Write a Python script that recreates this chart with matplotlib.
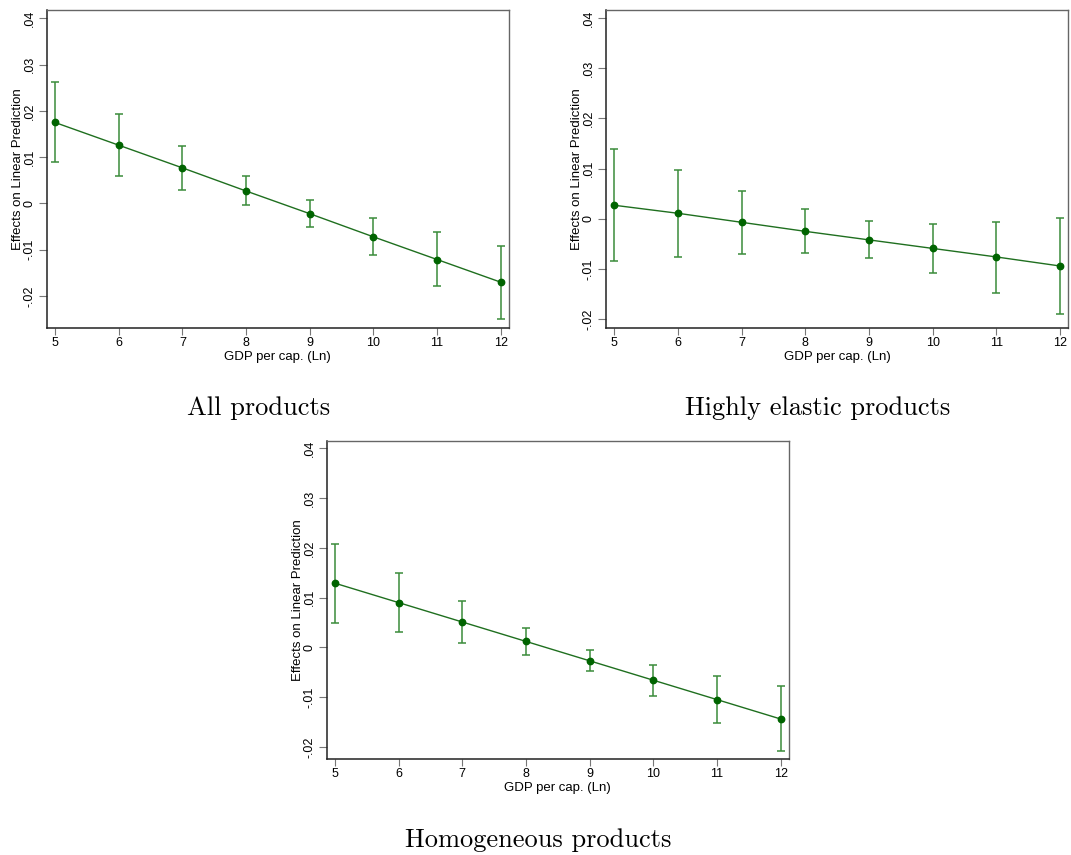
import matplotlib.pyplot as plt
from matplotlib.ticker import FixedLocator

# GDP per capita (ln) grid
gdp = [5, 6, 7, 8, 9, 10, 11, 12]

# All products
all_eff = [0.0175, 0.0126, 0.0077, 0.0027, -0.0022, -0.0072, -0.0121, -0.0170]
all_hi = [0.0263, 0.0193, 0.0124, 0.0059, 0.0007, -0.0032, -0.0062, -0.0092]
all_lo = [0.0089, 0.0060, 0.0030, -0.0004, -0.0051, -0.0112, -0.0179, -0.0249]

# Highly elastic products
elas_eff = [0.0027, 0.0011, -0.0007, -0.0025, -0.0042, -0.0059, -0.0076, -0.0094]
elas_hi = [0.0140, 0.0097, 0.0055, 0.0019, -0.0005, -0.0011, -0.0006, 0.0001]
elas_lo = [-0.0085, -0.0076, -0.0070, -0.0068, -0.0079, -0.0108, -0.0148, -0.0189]

# Homogeneous products
homo_eff = [0.0129, 0.0090, 0.0051, 0.0012, -0.0027, -0.0066, -0.0105, -0.0144]
homo_hi = [0.0208, 0.0150, 0.0094, 0.0039, -0.0005, -0.0035, -0.0057, -0.0077]
homo_lo = [0.0050, 0.0030, 0.0009, -0.0015, -0.0048, -0.0097, -0.0152, -0.0209]

yticks = [-0.02, -0.01, 0.0, 0.01, 0.02, 0.03, 0.04]
ytick_labels = ["-.02", "-.01", "0", ".01", ".02", ".03", ".04"]

titles = ["All products", "Highly elastic products", "Homogeneous products"]

plt.rcParams['font.family'] = ['Liberation Sans', 'DejaVu Sans']

fig = plt.figure(figsize=(10.71, 8.55), dpi=100)

# [left, bottom, width, height], y limits
panels = [
    ([0.0436, 0.6167, 0.4317, 0.3716], (-0.02683, 0.04179), all_eff, all_lo, all_hi),
    ([0.5658, 0.6167, 0.4317, 0.3716], (-0.0217, 0.0416), elas_eff, elas_lo, elas_hi),
    ([0.3050, 0.1119, 0.4317, 0.3723], (-0.0225, 0.04148), homo_eff, homo_lo, homo_hi),
]
title_pos = [(259 / 1071, 1 - 408 / 855), (818 / 1071, 1 - 408 / 855), (538 / 1071, 1 - 840 / 855)]

for (rect, ylim, eff, lo, hi), title, (tx, ty) in zip(panels, titles, title_pos):
    ax = fig.add_axes(rect)
    yerr = [[e - l for e, l in zip(eff, lo)], [h - e for e, h in zip(eff, hi)]]
    ax.errorbar(gdp, eff, yerr=yerr, fmt='none', ecolor='#3a8c3a', elinewidth=1.1,
                capsize=3, capthick=1.1, zorder=2)
    ax.plot(gdp, eff, color='#1f6f1f', lw=1.0, marker='o', markersize=4.6,
            markerfacecolor='#006400', markeredgecolor='#006400', zorder=3)
    ax.set_xlim(4.87, 12.13)
    ax.set_ylim(*ylim)
    ax.set_xticks(gdp)
    ax.set_xticklabels([str(g) for g in gdp], fontsize=9)
    ax.yaxis.set_major_locator(FixedLocator(yticks))
    ax.set_yticklabels(ytick_labels, rotation=90, va='center', fontsize=9)
    ax.tick_params(axis='both', direction='out', length=5, width=0.8, color='#777777', pad=1.5)
    ax.tick_params(axis='y', length=6, pad=2)
    ax.set_xlabel('GDP per cap. (Ln)', fontsize=9.5, labelpad=1.5)
    ax.set_ylabel('Effects on Linear Prediction', fontsize=9.5, labelpad=0)
    for side in ['left', 'bottom']:
        ax.spines[side].set_color('#222222')
        ax.spines[side].set_linewidth(1.1)
    for side in ['top', 'right']:
        ax.spines[side].set_color('#666666')
        ax.spines[side].set_linewidth(1.0)
    fig.text(tx, ty, title, ha='center', va='center', fontsize=19, family='cmr10')

fig.savefig('out.png', dpi=100)
